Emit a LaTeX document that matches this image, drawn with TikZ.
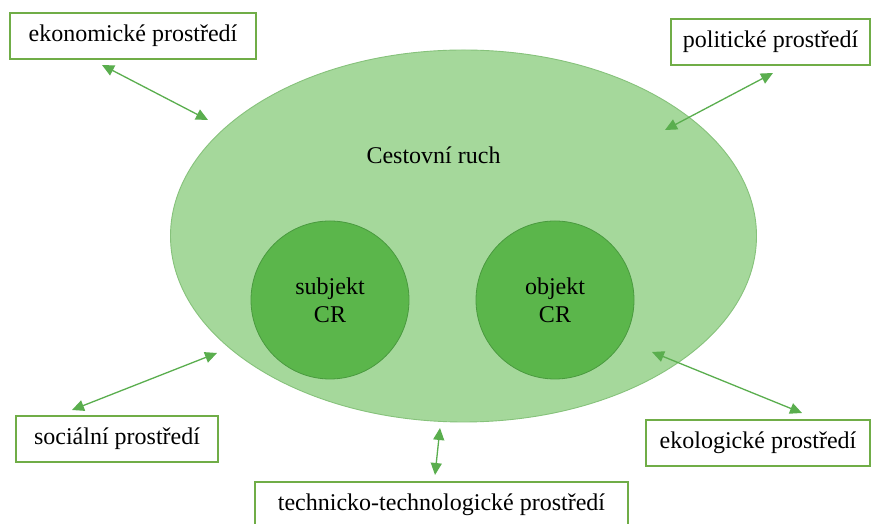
\documentclass[tikz,border=0pt]{standalone}
\usepackage{fontspec}
\setmainfont{Liberation Serif}
\usetikzlibrary{arrows.meta,shapes.geometric}
\definecolor{ellfill}{HTML}{A5D89B}
\definecolor{elldraw}{HTML}{86C27B}
\definecolor{cirfill}{HTML}{5BB64B}
\definecolor{cirdraw}{HTML}{4A9A3F}
\definecolor{boxdraw}{HTML}{70AD47}
\definecolor{arrcol}{HTML}{5AAE4E}
\tikzset{
  envbox/.style={draw=boxdraw, line width=1.1pt, fill=white, inner sep=0pt,
    minimum height=46pt, font=\fontsize{24}{28}\selectfont, text=black},
  inner/.style={circle, draw=cirdraw, line width=0.8pt, fill=cirfill,
    minimum size=158pt, inner sep=0pt, align=center,
    font=\fontsize{24}{28}\selectfont, text=black},
  link/.style={draw=arrcol, line width=1.3pt, {Triangle[length=12pt,width=11pt]}-{Triangle[length=12pt,width=11pt]}}
}
\begin{document}
\begin{tikzpicture}[x=1pt,y=1pt]
\useasboundingbox (0,0) rectangle (873,524);
\clip (0,0) rectangle (873,524);
\fill[white] (0,0) rectangle (873,524);
% main ellipse
\node[ellipse, draw=elldraw, line width=0.9pt, fill=ellfill, minimum width=586pt, minimum height=372pt, inner sep=0pt] (cr) at (463.5,288) {};
\node[font=\fontsize{24}{28}\selectfont, text=black] (crlabel) at (433.5,369) {Cestovní ruch};
\node[inner] (subj) at (330,224) {subjekt\\CR};
\node[inner] (obj) at (555,224) {objekt\\CR};
% boxes
\node[envbox, minimum width=246pt] (eko) at (133,488) {ekonomické prostředí};
\node[envbox, minimum width=199pt] (pol) at (770.5,482) {politické prostředí};
\node[envbox, minimum width=202pt] (soc) at (117,85) {sociální prostředí};
\node[envbox, minimum width=224pt] (ekol) at (758,81) {ekologické prostředí};
\node[envbox, minimum width=373pt] (tech) at (441.5,19) {technicko-technologické prostředí};
% arrow ends
\coordinate (ekoA) at (102,459);
\coordinate (ekoB) at (208,404);
\coordinate (polA) at (773,451);
\coordinate (polB) at (665,394);
\coordinate (socA) at (217,171);
\coordinate (socB) at (72,114);
\coordinate (ekolA) at (652,172);
\coordinate (ekolB) at (802,111);
\coordinate (techA) at (440,96);
\coordinate (techB) at (435,49);
\draw[link] (ekoA) -- (ekoB);
\draw[link] (polA) -- (polB);
\draw[link] (socA) -- (socB);
\draw[link] (ekolA) -- (ekolB);
\draw[link] (techA) -- (techB);
\end{tikzpicture}
\end{document}
